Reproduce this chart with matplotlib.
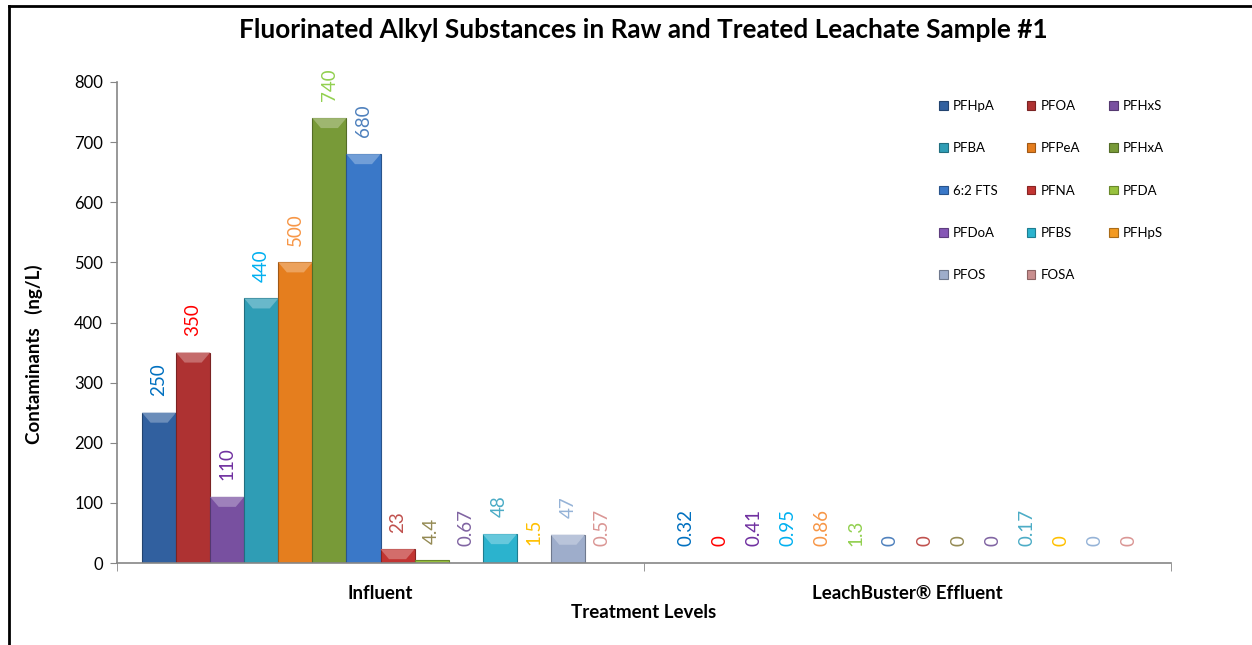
import matplotlib
matplotlib.use("Agg")
import matplotlib.pyplot as plt
import numpy as np
from matplotlib.patches import Polygon, Patch
from matplotlib.lines import Line2D
import matplotlib.colors as mcolors

plt.rcParams['font.family'] = ['Lato', 'DejaVu Sans']

# ---------------- data ----------------
groups = ["Influent", "LeachBuster\u00ae Effluent"]
series = ["PFHpA", "PFOA", "PFHxS", "PFBA", "PFPeA", "PFHxA", "6:2 FTS",
          "PFNA", "PFDA", "PFDoA", "PFBS", "PFHpS", "PFOS", "FOSA"]
influent = [250, 350, 110, 440, 500, 740, 680, 23, 4.4, 0.67, 48, 1.5, 47, 0.57]
effluent = [0.32, 0, 0.41, 0.95, 0.86, 1.3, 0, 0, 0, 0, 0.17, 0, 0, 0]
bar_colors = ["#31609F", "#AE3232", "#7850A0", "#2F9DB5", "#E57E1E", "#789A38",
              "#3A78C8", "#C23432", "#98C23E", "#8657B6", "#2BB3CE", "#F39A22",
              "#9EADCB", "#C98E8E"]
label_colors = ["#0070C0", "#FF0000", "#7030A0", "#00B0F0", "#F79646", "#92D050",
                "#4F81BD", "#C0504D", "#948A54", "#8064A2", "#4BACC6", "#FFC000",
                "#95B3D7", "#DA9694"]
yticks = [0, 100, 200, 300, 400, 500, 600, 700, 800]

values = np.array([influent, effluent])  # shape (groups, series)

# ---------------- figure ----------------
fig = plt.figure(figsize=(12.52, 6.45), dpi=100)
ax = fig.add_axes([117/1252, 1-563/645, (1171-117)/1252, (563-82)/645])

n = len(series)
width = 0.905 / n
x = np.arange(len(groups))
px_per_unit = (563 - 82) / 800.0

def shade(c, f):
    r, g, b = mcolors.to_rgb(c)
    if f < 1:
        return (r*f, g*f, b*f)
    return (r + (1-r)*(f-1), g + (1-g)*(f-1), b + (1-b)*(f-1))

handles = []
for i in range(n):
    offs = x - 0.905/2 + width*(i + 0.5)
    vals = values[:, i]
    bars = ax.bar(offs, vals, width=width, color=bar_colors[i],
                  edgecolor=shade(bar_colors[i], 0.7), linewidth=0.8,
                  label=series[i], zorder=2)
    handles.append(Patch(facecolor=bar_colors[i], edgecolor=shade(bar_colors[i], 0.7),
                         linewidth=0.8))
    for b, v in zip(bars, vals):
        if v * px_per_unit < 2:
            b.set_linewidth(0)
            if v * px_per_unit < 1:
                b.set_visible(False)
        if v * px_per_unit >= 4:
            bev = min(10 / px_per_unit, v)
            x0, x1 = b.get_x(), b.get_x() + b.get_width()
            ins = b.get_width() * 0.25
            poly = Polygon([[x0, v], [x1, v], [x1 - ins, v - bev], [x0 + ins, v - bev]],
                           closed=True, facecolor=shade(bar_colors[i], 1.28),
                           edgecolor='none', zorder=3)
            ax.add_patch(poly)
        ax.annotate(f"{v:g}", (b.get_x() + b.get_width()/2, v),
                    xytext=(0, 12), textcoords='offset points',
                    rotation=90, ha='center', va='bottom',
                    fontsize=13.5, color=label_colors[i], zorder=4)

ax.set_xlim(-0.5, 1.5)
ax.set_ylim(0, 800)
ax.set_yticks(yticks)
ax.set_yticklabels([str(t) for t in yticks], fontsize=12)
ax.set_xticks(x)
ax.set_xticklabels(groups, fontsize=13.5, fontweight='bold')
ax.set_xticks([-0.5, 0.5, 1.5], minor=True)
ax.tick_params(axis='x', which='major', length=0, pad=16)
ax.tick_params(axis='x', which='minor', length=6, color='#868686', direction='out')
ax.tick_params(axis='y', length=5, color='#868686', direction='out', pad=5)
for s in ['top', 'right']:
    ax.spines[s].set_visible(False)
for s in ['left', 'bottom']:
    ax.spines[s].set_color('#868686')
    ax.spines[s].set_linewidth(1.2)

ax.set_xlabel("Treatment Levels", fontsize=13.5, fontweight='bold', labelpad=1)
ax.set_ylabel("Contaminants   (ng/L)", fontsize=13.5, fontweight='bold')
ax.yaxis.set_label_coords((43-117)/1054, (563-354)/481)

fig.text(643/1252, 1-30/645, "Fluorinated Alkyl Substances in Raw and Treated Leachate Sample #1",
         ha='center', va='center', fontsize=18.8, fontweight='bold')

# legend ordered row-wise in 3 columns
order = [0, 3, 6, 9, 12, 1, 4, 7, 10, 13, 2, 5, 8, 11]
leg = fig.legend([handles[k] for k in order], [series[k] for k in order],
                 ncol=3, loc='upper left', bbox_to_anchor=(939/1252, 1-100/645),
                 frameon=False, fontsize=9.5, handlelength=0.65, handleheight=0.65,
                 handletextpad=0.4, columnspacing=2.2, labelspacing=2.3,
                 borderaxespad=0, borderpad=0)

# figure border (left and top)
fig.add_artist(Line2D([9/1252, 9/1252], [0, 1-6/645], transform=fig.transFigure,
                      color='black', linewidth=2))
fig.add_artist(Line2D([9/1252, 1], [1-6/645, 1-6/645], transform=fig.transFigure,
                      color='black', linewidth=2))

fig.savefig("out.png", dpi=100)
